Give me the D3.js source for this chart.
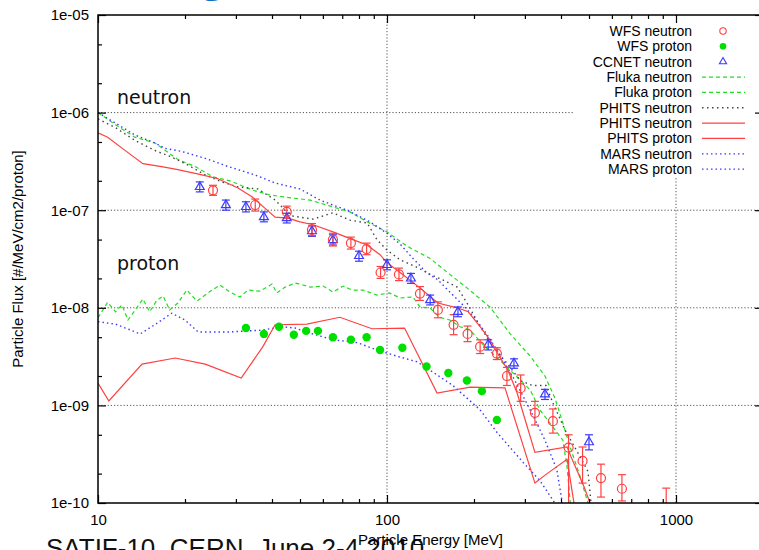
<!DOCTYPE html>
<html><head><meta charset="utf-8">
<script src="https://cdn.jsdelivr.net/npm/d3@7"></script>
<style>body{margin:0;background:#fff;overflow:hidden}svg{display:block}</style>
</head><body>
<svg id="c" width="759" height="550"></svg>
<script>
// ---------- data (Energy in MeV, flux in #/MeV/cm2/proton) ----------
const wfsNeutronE  = [25, 35, 45, 55, 65, 75, 85, 95, 110, 130, 150, 170, 190, 210, 240, 260, 290, 325, 375, 425, 475, 550, 650, 925];
const wfsNeutronF  = [1.6e-7, 1.13e-7, 9.6e-8, 6.3e-8, 5.0e-8, 4.6e-8, 4.0e-8, 2.3e-8, 2.2e-8, 1.4e-8, 9.5e-9, 6.7e-9, 5.4e-9, 4.0e-9, 3.4e-9, 2.0e-9, 1.5e-9, 8.4e-10, 6.9e-10, 3.7e-10, 2.7e-10, 1.8e-10, 1.4e-10, 6e-11];
const wfsNeutronLo = [1.42e-7, 9.8e-8, 8.3e-8, 5.5e-8, 4.3e-8, 4.0e-8, 3.5e-8, 2.0e-8, 1.9e-8, 1.19e-8, 7.9e-9, 5.3e-9, 4.5e-9, 3.4e-9, 2.95e-9, 1.6e-9, 1.1e-9, 6.3e-10, 5.2e-10, 1e-11, 1.6e-10, 1.15e-10, 1.05e-10, 1e-11];
const wfsNeutronHi = [1.8e-7, 1.3e-7, 1.1e-7, 7.3e-8, 5.8e-8, 5.3e-8, 4.6e-8, 2.65e-8, 2.55e-8, 1.65e-8, 1.15e-8, 8.5e-9, 6.5e-9, 4.7e-9, 3.9e-9, 2.45e-9, 2.05e-9, 1.1e-9, 9.2e-10, 5.0e-10, 3.75e-10, 2.5e-10, 1.95e-10, 1.42e-10];

const wfsProtonE = [32.5, 37.5, 42.3, 47.6, 52.5, 57.7, 65, 75, 85, 94.6, 113, 137, 163, 189, 213, 240];
const wfsProtonF = [6.2e-9, 5.4e-9, 6.4e-9, 5.3e-9, 5.8e-9, 5.8e-9, 5.0e-9, 4.7e-9, 5.0e-9, 3.7e-9, 3.9e-9, 2.5e-9, 2.15e-9, 1.8e-9, 1.4e-9, 7.1e-10];

const ccnetE  = [22.5, 27.7, 32.5, 37.5, 45, 55, 65, 80, 100, 121, 141, 176, 224, 275, 352, 500];
const ccnetF  = [1.73e-7, 1.13e-7, 1.08e-7, 8.5e-8, 8.3e-8, 6.1e-8, 4.95e-8, 3.4e-8, 2.75e-8, 2.0e-8, 1.2e-8, 9.1e-9, 4.2e-9, 2.7e-9, 1.3e-9, 4.2e-10];
const ccnetLo = [1.54e-7, 1.0e-7, 9.6e-8, 7.6e-8, 7.4e-8, 5.4e-8, 4.4e-8, 3.0e-8, 2.45e-8, 1.78e-8, 1.07e-8, 8.1e-9, 3.7e-9, 2.4e-9, 1.15e-9, 3.5e-10];
const ccnetHi = [1.95e-7, 1.27e-7, 1.22e-7, 9.6e-8, 9.3e-8, 6.9e-8, 5.6e-8, 3.8e-8, 3.1e-8, 2.25e-8, 1.35e-8, 1.02e-8, 4.7e-9, 3.0e-9, 1.46e-9, 5.0e-10];

const flukaNeutronE = [10, 11.5, 13.4, 15.7, 17.1, 18.9, 21.7, 25, 28.6, 34.4, 39.4, 47.3, 54.2, 65, 74.5, 85.3, 100, 117, 141, 165, 189, 227, 267, 313, 352, 381, 403, 430, 465, 496, 520];
const flukaNeutronF = [1.0e-6, 7.5e-7, 5.6e-7, 4.9e-7, 4.1e-7, 3.3e-7, 2.8e-7, 2.2e-7, 2.0e-7, 1.6e-7, 1.43e-7, 1.33e-7, 1.27e-7, 1.08e-7, 9.6e-8, 7.6e-8, 6.0e-8, 4.3e-8, 3.2e-8, 2.2e-8, 1.6e-8, 1.02e-8, 5.4e-9, 3.2e-9, 2.0e-9, 1.19e-9, 7.1e-10, 3.75e-10, 1.9e-10, 1.0e-10, 5e-11];

const flukaProtonE = [10, 10.8, 11.5, 12.1, 12.7, 13.6, 14.3, 15.1, 16.0, 16.8, 17.7, 18.9, 20.3, 22.0, 24.0, 26.4, 28.6, 31.0, 33.0, 36.4, 40.0, 41.6, 44.4, 48.1, 50.0, 54.2, 60.1, 65.0, 70.5, 75.6, 82.6, 92.3, 102, 111, 123, 130, 141, 152, 165, 179, 194, 218, 240, 273, 313, 338, 366, 406, 420, 440];
const flukaProtonF = [7.9e-9, 1.14e-8, 9.1e-9, 1.07e-8, 7.5e-9, 9.95e-9, 1.23e-8, 9.1e-9, 1.2e-8, 1.32e-8, 9.5e-9, 1.12e-8, 1.52e-8, 1.17e-8, 1.42e-8, 1.71e-8, 1.45e-8, 1.29e-8, 1.52e-8, 1.48e-8, 1.75e-8, 1.42e-8, 1.63e-8, 1.79e-8, 1.75e-8, 1.63e-8, 1.67e-8, 1.45e-8, 1.67e-8, 1.52e-8, 1.52e-8, 1.35e-8, 1.42e-8, 1.26e-8, 1.29e-8, 1.02e-8, 9.95e-9, 8.0e-9, 7.5e-9, 6.4e-9, 5.9e-9, 4.0e-9, 3.1e-9, 2.15e-9, 1.44e-9, 9.0e-10, 6.6e-10, 4.4e-10, 2.3e-10, 5e-11];

const phitsNeutronDotE = [10, 11.5, 13.4, 15.7, 18.0, 20.5, 23.5, 26.9, 30.5, 35.8, 41.0, 44.4, 47.3, 55.5, 65.0, 74.5, 85.3, 92.3, 100, 111, 127, 141, 156, 175, 191, 210, 233, 260, 289, 318, 355, 375, 413, 465, 496, 520];
const phitsNeutronDotF = [8.6e-7, 7.0e-7, 5.2e-7, 4.1e-7, 3.5e-7, 2.9e-7, 2.3e-7, 1.94e-7, 1.73e-7, 1.65e-7, 1.27e-7, 1.0e-7, 8.7e-8, 8.1e-8, 9.4e-8, 7.9e-8, 7.4e-8, 5.0e-8, 3.9e-8, 3.1e-8, 2.6e-8, 2.2e-8, 1.93e-8, 1.63e-8, 1.07e-8, 6.4e-9, 4.0e-9, 2.7e-9, 1.8e-9, 1.6e-9, 1.6e-9, 1.06e-9, 5.6e-10, 3.0e-10, 2.1e-10, 5e-11];

const phitsNeutronE = [10, 10.8, 12.4, 14.3, 16.6, 18.9, 22.9, 26.0, 30.5, 34.1, 37.8, 41.0, 45.4, 50.0, 55.5, 65.0, 76.2, 85.3, 94.6, 100, 111, 130, 150, 175, 191, 210, 227, 246, 262, 282, 325, 420, 437, 481, 504, 530];
const phitsNeutronF = [6.2e-7, 5.6e-7, 4.1e-7, 3.0e-7, 2.8e-7, 2.6e-7, 2.3e-7, 2.1e-7, 1.69e-7, 1.37e-7, 1.05e-7, 8.5e-8, 8.3e-8, 7.6e-8, 7.1e-8, 6.0e-8, 5.0e-8, 4.4e-8, 3.5e-8, 2.9e-8, 2.3e-8, 1.6e-8, 1.12e-8, 1.0e-8, 9.1e-9, 6.4e-9, 4.7e-9, 3.1e-9, 2.3e-9, 1.34e-9, 3.3e-10, 3.75e-10, 2.8e-10, 1.46e-10, 1.0e-10, 5e-11];

const phitsProtonE = [10, 10.9, 14.2, 18.5, 23.5, 31.3, 37.2, 41.0, 52.8, 68.7, 88.7, 115, 149, 194, 256, 325, 358, 420, 460];
const phitsProtonF = [1.69e-9, 1.11e-9, 2.65e-9, 3.06e-9, 2.65e-9, 1.91e-9, 4.0e-9, 6.7e-9, 6.8e-9, 8.0e-9, 6.1e-9, 6.2e-9, 1.34e-9, 1.54e-9, 1.51e-9, 1.6e-10, 2.0e-10, 2.8e-10, 5e-11];

const marsNeutronE = [10, 11.5, 13.4, 15.7, 17.1, 19.5, 23.5, 28.2, 34.9, 41.0, 50.0, 58.6, 65.0, 72.8, 87.3, 100, 111, 123, 137, 150, 165, 183, 201, 222, 246, 277, 313, 352, 387, 420];
const marsNeutronF = [1.0e-6, 7.8e-7, 5.9e-7, 4.9e-7, 4.3e-7, 4.0e-7, 3.4e-7, 2.8e-7, 2.3e-7, 1.9e-7, 1.65e-7, 1.27e-7, 1.13e-7, 1.0e-7, 7.6e-8, 5.8e-8, 4.5e-8, 3.2e-8, 2.3e-8, 1.93e-8, 1.45e-8, 1.07e-8, 7.9e-9, 5.3e-9, 3.3e-9, 1.8e-9, 9.0e-10, 4.4e-10, 2.2e-10, 5e-11];

const marsProtonE = [10, 11.5, 14.0, 15.7, 18.0, 20.0, 22.2, 28.2, 36.9, 43.3, 48.1, 54.2, 65.0, 78.7, 92.3, 108, 127, 144, 169, 210, 240, 296, 338, 381, 420];
const marsProtonF = [7.2e-9, 6.8e-9, 5.4e-9, 6.7e-9, 8.8e-9, 7.5e-9, 5.65e-9, 5.65e-9, 5.9e-9, 6.4e-9, 6.2e-9, 5.5e-9, 4.7e-9, 4.4e-9, 3.7e-9, 3.2e-9, 2.8e-9, 2.2e-9, 1.6e-9, 9.0e-10, 5.3e-10, 2.6e-10, 1.7e-10, 1.0e-10, 5e-11];

const xMajorTicks = [10, 100, 1000];
const xTickLabels = ["10", "100", "1000"];
const yMajorTicks = [1e-10, 1e-9, 1e-8, 1e-7, 1e-6, 1e-5];
const yTickLabels = ["1e-10", "1e-09", "1e-08", "1e-07", "1e-06", "1e-05"];
const legendLabels = ["WFS neutron", "WFS proton", "CCNET neutron", "Fluka neutron", "Fluka proton", "PHITS neutron", "PHITS neutron", "PHITS proton", "MARS neutron", "MARS proton"];

// ---------- layout ----------
const L = 98, R = 763, T = 15, B = 503;
const svg = d3.select("#c");
const x = d3.scaleLog().domain([10, 2000]).range([L, R]);
const y = d3.scaleLog().domain([1e-10, 1e-5]).range([B, T]);
const FONT = "'Liberation Sans', Arial, sans-serif";

const RED = "#ff4040", GREEN = "#22dd22", BLUE = "#3a3aff", GRAY = "#444";

svg.append("defs").append("clipPath").attr("id", "clip")
  .append("rect").attr("x", L).attr("y", T).attr("width", R - L).attr("height", B - T);

// fragments of slide text around the chart
svg.append("text").attr("x", 201).attr("y", -10).attr("font-family", "'Open Sans', sans-serif")
  .attr("font-size", 44).attr("font-weight", "bold").attr("fill", "#0a72c4").text("g");
svg.append("text").attr("x", 46).attr("y", 557).attr("font-family", FONT)
  .attr("font-size", 26).attr("fill", "#111").text("SATIF-10, CERN, June 2-4 2010");

// grid
const grid = svg.append("g").attr("stroke", "#555").attr("stroke-width", 1).attr("stroke-dasharray", "1.2,2");
[100, 1000].forEach(v => grid.append("line").attr("x1", x(v)).attr("x2", x(v)).attr("y1", T).attr("y2", B));
[1e-9, 1e-8, 1e-7, 1e-6].forEach(v => grid.append("line").attr("x1", L).attr("x2", R).attr("y1", y(v)).attr("y2", y(v)));

// legend background (opaque key)
svg.append("rect").attr("x", 573).attr("y", T + 1).attr("width", R - 573).attr("height", 162).attr("fill", "#fff");

// ---------- series ----------
const plot = svg.append("g").attr("clip-path", "url(#clip)");
const line = d3.line().x(d => x(d[0])).y(d => y(d[1]));
const zip = (a, b) => a.map((v, i) => [v, b[i]]);

const lineSeries = [
  {E: flukaNeutronE, F: flukaNeutronF, color: GREEN, dash: "4,3", w: 1.2},
  {E: flukaProtonE, F: flukaProtonF, color: GREEN, dash: "4,3", w: 1.2},
  {E: phitsNeutronDotE, F: phitsNeutronDotF, color: GRAY, dash: "1.5,3.5", w: 1.4},
  {E: marsNeutronE, F: marsNeutronF, color: BLUE, dash: "1.5,3", w: 1.4},
  {E: marsProtonE, F: marsProtonF, color: BLUE, dash: "1.5,3", w: 1.4},
  {E: phitsNeutronE, F: phitsNeutronF, color: RED, dash: null, w: 1.2},
  {E: phitsProtonE, F: phitsProtonF, color: RED, dash: null, w: 1.2}
];
lineSeries.forEach(s => {
  plot.append("path").datum(zip(s.E, s.F)).attr("d", line)
    .attr("fill", "none").attr("stroke", s.color).attr("stroke-width", s.w)
    .attr("stroke-dasharray", s.dash);
});

// error bars helper
function errorBars(E, lo, hi, color) {
  const g = plot.append("g").attr("stroke", color).attr("stroke-width", 1.2).attr("fill", "none");
  E.forEach((e, i) => {
    const cx = x(e), y1 = y(lo[i]), y2 = y(hi[i]);
    g.append("line").attr("x1", cx).attr("x2", cx).attr("y1", y1).attr("y2", y2);
    g.append("line").attr("x1", cx - 4).attr("x2", cx + 4).attr("y1", y1).attr("y2", y1);
    g.append("line").attr("x1", cx - 4).attr("x2", cx + 4).attr("y1", y2).attr("y2", y2);
  });
}
errorBars(ccnetE, ccnetLo, ccnetHi, BLUE);
errorBars(wfsNeutronE, wfsNeutronLo, wfsNeutronHi, RED);

const tri = d3.symbol().type(d3.symbolTriangle).size(34);
plot.append("g").selectAll("path").data(zip(ccnetE, ccnetF)).join("path")
  .attr("d", tri).attr("transform", d => `translate(${x(d[0])},${y(d[1])})`)
  .attr("fill", "none").attr("stroke", BLUE).attr("stroke-width", 1.2);

plot.append("g").selectAll("circle").data(zip(wfsNeutronE, wfsNeutronF)).join("circle")
  .attr("cx", d => x(d[0])).attr("cy", d => y(d[1])).attr("r", 4.5)
  .attr("fill", "none").attr("stroke", RED).attr("stroke-width", 1.2);

plot.append("g").selectAll("circle").data(zip(wfsProtonE, wfsProtonF)).join("circle")
  .attr("cx", d => x(d[0])).attr("cy", d => y(d[1])).attr("r", 4.2)
  .attr("fill", "#00e000");

// ---------- axes ----------
function fmtY(d) { const i = yMajorTicks.indexOf(d); return i >= 0 ? yTickLabels[i] : ""; }
function fmtX(d) { const i = xMajorTicks.indexOf(d); return i >= 0 ? xTickLabels[i] : ""; }
const yMinor = [];
yMajorTicks.slice(0, -1).forEach(v => { yMinor.push(v * 2, v * 5); });
const xMinor = [];
[10, 100, 1000].forEach(v => { for (let k = 2; k <= 9; k++) if (v * k <= 2000) xMinor.push(v * k); });

function styleAxis(g) {
  g.selectAll("path.domain").remove();
  g.selectAll("line").attr("stroke", "#000").attr("stroke-width", 1.2);
  g.selectAll("text").attr("font-family", FONT).attr("font-size", 15).attr("fill", "#000");
}
svg.append("g").attr("transform", `translate(${L},0)`)
  .call(d3.axisLeft(y).tickValues(yMajorTicks).tickFormat(fmtY).tickSize(-8).tickPadding(9)).call(styleAxis);
svg.append("g").attr("transform", `translate(${L},0)`)
  .call(d3.axisLeft(y).tickValues(yMinor).tickFormat("").tickSize(-4)).call(styleAxis);
svg.append("g").attr("transform", `translate(${R},0)`)
  .call(d3.axisRight(y).tickValues(yMajorTicks).tickFormat("").tickSize(-8)).call(styleAxis);
svg.append("g").attr("transform", `translate(${R},0)`)
  .call(d3.axisRight(y).tickValues(yMinor).tickFormat("").tickSize(-4)).call(styleAxis);
svg.append("g").attr("transform", `translate(0,${B})`)
  .call(d3.axisBottom(x).tickValues(xMajorTicks).tickFormat(fmtX).tickSize(-8).tickPadding(11)).call(styleAxis);
svg.append("g").attr("transform", `translate(0,${B})`)
  .call(d3.axisBottom(x).tickValues(xMinor).tickFormat("").tickSize(-4)).call(styleAxis);
svg.append("g").attr("transform", `translate(0,${T})`)
  .call(d3.axisTop(x).tickValues(xMajorTicks).tickFormat("").tickSize(-8)).call(styleAxis);
svg.append("g").attr("transform", `translate(0,${T})`)
  .call(d3.axisTop(x).tickValues(xMinor).tickFormat("").tickSize(-4)).call(styleAxis);

// frame
svg.append("rect").attr("x", L).attr("y", T).attr("width", R - L).attr("height", B - T)
  .attr("fill", "none").attr("stroke", "#000").attr("stroke-width", 1.5);

// axis titles
svg.append("text").attr("x", (L + R) / 2).attr("y", 545).attr("text-anchor", "middle")
  .attr("font-family", FONT).attr("font-size", 15).text("Particle Energy [MeV]");
svg.append("text").attr("transform", `translate(23,${(T + B) / 2}) rotate(-90)`).attr("text-anchor", "middle")
  .attr("font-family", FONT).attr("font-size", 15).text("Particle Flux [#/MeV/cm2/proton]");

// in-plot labels
svg.append("text").attr("x", 117).attr("y", 104).attr("font-family", "'DejaVu Sans', sans-serif")
  .attr("font-size", 19).attr("fill", "#111").text("neutron");
svg.append("text").attr("x", 117).attr("y", 270).attr("font-family", "'DejaVu Sans', sans-serif")
  .attr("font-size", 19).attr("fill", "#111").text("proton");

// ---------- legend ----------
const legendStyles = [
  {type: "circle", color: RED}, {type: "dot", color: "#00e000"}, {type: "tri", color: BLUE},
  {type: "line", color: GREEN, dash: "4,3"}, {type: "line", color: GREEN, dash: "4,3"},
  {type: "line", color: GRAY, dash: "1.5,3.5"}, {type: "line", color: RED, dash: null},
  {type: "line", color: RED, dash: null}, {type: "line", color: BLUE, dash: "1.5,3"},
  {type: "line", color: BLUE, dash: "1.5,3"}
];
const leg = svg.append("g");
legendLabels.forEach((lab, i) => {
  const cy = 31 + i * 15.35;
  leg.append("text").attr("x", 692).attr("y", cy).attr("dy", "0.36em").attr("text-anchor", "end")
    .attr("font-family", FONT).attr("font-size", 14).text(lab);
  const st = legendStyles[i];
  if (st.type === "line") {
    leg.append("line").attr("x1", 702).attr("x2", 745).attr("y1", cy).attr("y2", cy)
      .attr("stroke", st.color).attr("stroke-width", 1.3).attr("stroke-dasharray", st.dash);
  } else if (st.type === "circle") {
    leg.append("circle").attr("cx", 723).attr("cy", cy).attr("r", 3.2).attr("fill", "none").attr("stroke", st.color).attr("stroke-width", 1.1);
  } else if (st.type === "dot") {
    leg.append("circle").attr("cx", 723).attr("cy", cy).attr("r", 3.3).attr("fill", st.color);
  } else {
    leg.append("path").attr("d", d3.symbol().type(d3.symbolTriangle).size(22)).attr("transform", `translate(723,${cy})`)
      .attr("fill", "none").attr("stroke", st.color).attr("stroke-width", 1.1);
  }
});
</script>
</body></html>
